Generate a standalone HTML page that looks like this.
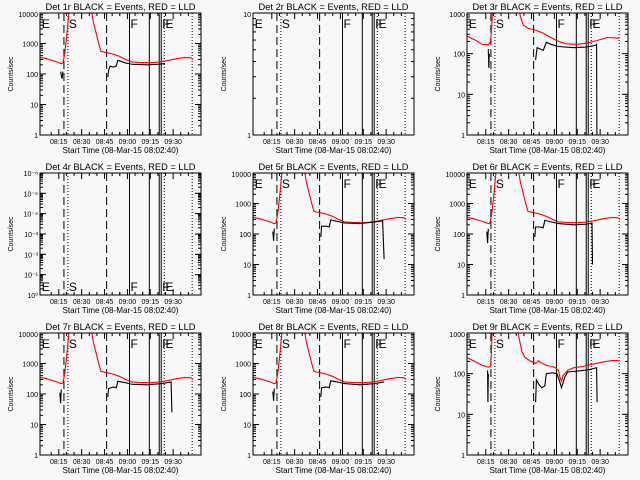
<!DOCTYPE html>
<html><head><meta charset="utf-8"><style>
html,body{margin:0;padding:0;background:#f8f8f8}
svg{display:block}
text{font-family:"Liberation Sans",sans-serif;fill:#000}
</style></head><body>
<svg id="chart" width="640" height="480" xmlns="http://www.w3.org/2000/svg"></svg>
<script>
const tickLabels=["08:15","08:30","08:45","09:00","09:15","09:30"];
const tickMinutes=[12.33,27.33,42.33,57.33,72.33,87.33];
const dashedTimes=[15.7,43.7];
const solidTimes=[58.7,71.7,78.2,79.5];
const dottedTimes=[18.3,81.5,99.8];
const letterTimes=[0.5,18.3,58.7,79.5,82.3];
const letterChars=["E","S","F","F","E"];
const titles=["Det 1r BLACK = Events, RED = LLD","Det 2r BLACK = Events, RED = LLD","Det 3r BLACK = Events, RED = LLD","Det 4r BLACK = Events, RED = LLD","Det 5r BLACK = Events, RED = LLD","Det 6r BLACK = Events, RED = LLD","Det 7r BLACK = Events, RED = LLD","Det 8r BLACK = Events, RED = LLD","Det 9r BLACK = Events, RED = LLD"];
const redA_t=[0,3,8,12,14,15,16,17,18,19.5,33,35,37,39,40,44,48,52,56,60,65,72,78,83,90,95,99,100.5];
const redA_v=[350,330,280,240,220,230,400,1000,3000,20000,20000,5000,2000,800,550,500,450,380,300,250,240,235,245,270,320,350,340,300];
const redB_t=[0,5,10,14,15.5,16,17,34,35,37,40,45,50,55,60,65,72,78,85,92,100];
const redB_v=[270,220,170,165,200,350,1500,1500,800,500,420,380,320,250,200,175,170,180,210,250,240];
const redC_t=[0,5,10,14,15.5,16,16.5,33,34,36,38,42,45,47,48,52,56,58,60,61,62,63,66,70,76,82,88,95,100];
const redC_v=[250,200,160,145,150,300,1500,1500,800,350,250,200,180,210,190,160,150,140,120,80,65,90,120,140,150,170,190,210,210];
const blk1_t=[13.5,14,14.5,15,null,44.5,45,46,48,50,51,53,56,60,70,78,82];
const blk1_v=[120,90,70,120,null,80,130,180,170,180,280,260,230,210,200,210,220];
const blk3_t=[14,14.3,14.6,null,45,46,48,50,51,52,55,60,70,78,84,85,85.2];
const blk3_v=[130,45,100,null,70,140,130,120,150,190,170,150,140,145,160,170,1];
const blk5_t=[13,13.5,14,null,44.5,45,48,50,51,55,60,70,80,85,86];
const blk5_v=[120,60,150,null,80,180,180,170,290,260,230,220,250,270,15];
const blk6_t=[13,13.5,14,null,44.5,45,48,50,51,55,60,70,78,82,82.3];
const blk6_v=[120,50,150,null,80,170,170,160,280,250,220,200,210,230,10];
const blk7_t=[13,13.5,14,null,44.5,45,48,50,51,55,60,70,80,86,86.5];
const blk7_v=[110,50,140,null,80,150,170,160,260,240,210,200,220,250,25];
const blk8_t=[13,13.5,14,null,44.5,45,48,50,51,55,60,70,80,86];
const blk8_v=[120,60,150,null,80,160,170,160,270,250,220,200,220,250];
const blk9_t=[13.5,13.7,14,null,45,45.5,47,49,51,52,56,59,61,62,64,66,72,80,85,85.3];
const blk9_v=[120,20,100,null,20,70,55,45,50,100,105,100,60,45,80,110,115,125,140,20];
const ymaxExp=[4,1,3,0,4,4,4,4,3];
const panelRed=[[redA_t,redA_v],null,[redB_t,redB_v],null,[redA_t,redA_v],[redA_t,redA_v],[redA_t,redA_v],[redA_t,redA_v],[redC_t,redC_v]];
const panelBlk=[[blk1_t,blk1_v],null,[blk3_t,blk3_v],null,[blk5_t,blk5_v],[blk6_t,blk6_v],[blk7_t,blk7_v],[blk8_t,blk8_v],[blk9_t,blk9_v]];
const logLabels4=["10⁻⁸","10⁻⁶","10⁻⁴","10⁻³","10⁻³","10⁻¹","10⁰"];

const svg=document.getElementById('chart');
const NS="http://www.w3.org/2000/svg";
function mk(tag,attrs,parent){const e=document.createElementNS(NS,tag);for(const k in attrs)e.setAttribute(k,attrs[k]);(parent||svg).appendChild(e);return e;}
const TSPAN=105.6, W=161, H=122;
for(let p=0;p<9;p++){
  const col=p%3,row=Math.floor(p/3);
  const x0=[40,253,467][col], y0=13+row*160;
  const g=mk('g',{});
  
  
  const xs=t=>x0+t*W/TSPAN;
  const emax=ymaxExp[p];
  const ys=v=>{ if(p===1){return y0+H-(Math.log10(v))*H;} if(p===3){return y0+H-v*H/6;} return y0+H-Math.log10(v)/emax*H;};
  const cid='clip'+p;
  const cp=mk('clipPath',{id:cid},g);mk('rect',{x:x0,y:y0,width:W,height:H},cp);
  const tt=mk('text',{x:x0+W/2,y:y0-3,'font-size':'9.5','text-anchor':'middle',textLength:'150',lengthAdjust:'spacingAndGlyphs'},g);tt.textContent=titles[p];
  
  
  const yt=mk('text',{x:0,y:0,'font-size':'7','text-anchor':'middle',transform:`translate(${x0-27},${y0+H/2}) rotate(-90)`},g);yt.textContent='Counts/sec';
  
  
  const xt=mk('text',{x:x0+W/2,y:y0+H+18,'font-size':'8','text-anchor':'middle',textLength:'116',lengthAdjust:'spacingAndGlyphs'},g);xt.textContent='Start Time (08-Mar-15 08:02:40)';
  
  
  tickMinutes.forEach((m,i)=>{const x=xs(m);
    mk('line',{x1:x,x2:x,y1:y0+H,y2:y0+H-6,stroke:'#000'},g);mk('line',{x1:x,x2:x,y1:y0,y2:y0+6,stroke:'#000'},g);
    const tl=mk('text',{x:x,y:y0+H+9,'font-size':'7','text-anchor':'middle'},g);tl.textContent=tickLabels[i];
    
    
    for(let k=1;k<3;k++){const xm=xs(m+k*5);if(xm<x0+W){mk('line',{x1:xm,x2:xm,y1:y0+H,y2:y0+H-3,stroke:'#000'},g);mk('line',{x1:xm,x2:xm,y1:y0,y2:y0+3,stroke:'#000'},g);}}
    const xb=xs(m-5);if(xb>x0){mk('line',{x1:xb,x2:xb,y1:y0+H,y2:y0+H-3,stroke:'#000'},g);}
  });
  if(p===3){
    for(let i=0;i<7;i++){const y=y0+H-i*H/6;
      mk('line',{x1:x0,x2:x0+6,y1:y,y2:y,stroke:'#000'},g);mk('line',{x1:x0+W,x2:x0+W-6,y1:y,y2:y,stroke:'#000'},g);
      const l=mk('text',{x:x0-2,y:y+3,'font-size':'7','text-anchor':'end'},g);l.textContent=logLabels4[6-i];
      for(let k=1;k<10;k++){const ym=y-Math.log10(k)*H/6; if(i<6){mk('line',{x1:x0,x2:x0+3,y1:ym,y2:ym,stroke:'#000'},g);mk('line',{x1:x0+W,x2:x0+W-3,y1:ym,y2:ym,stroke:'#000'},g);}}
    }
  } else {
    for(let e=0;e<=emax;e++){const y=ys(Math.pow(10,e));
      mk('line',{x1:x0,x2:x0+6,y1:y,y2:y,stroke:'#000'},g);mk('line',{x1:x0+W,x2:x0+W-6,y1:y,y2:y,stroke:'#000'},g);
      const l=mk('text',{x:x0-2,y:y+(e===emax?4:3),'font-size':'7','text-anchor':'end'},g);l.textContent=String(Math.pow(10,e));
      
      
      if(e<emax)for(let k=2;k<10;k++){const ym=ys(k*Math.pow(10,e));mk('line',{x1:x0,x2:x0+3,y1:ym,y2:ym,stroke:'#000'},g);mk('line',{x1:x0+W,x2:x0+W-3,y1:ym,y2:ym,stroke:'#000'},g);}
    }
  }
  dashedTimes.forEach(t=>mk('line',{x1:xs(t),x2:xs(t),y1:y0,y2:y0+H,stroke:'#000','stroke-dasharray':'8,4'},g));
  dottedTimes.forEach(t=>mk('line',{x1:xs(t),x2:xs(t),y1:y0,y2:y0+H,stroke:'#000','stroke-dasharray':'1,2'},g));
  solidTimes.forEach(t=>mk('line',{x1:xs(t),x2:xs(t),y1:y0,y2:y0+H,stroke:'#000'},g));
  const ly = p===3 ? y0+H-4 : y0+15;
  letterTimes.forEach((t,i)=>{const l=mk('text',{x:xs(t)+(i===4?0:1),y:ly,'font-size':'12','font-weight':'100','clip-path':`url(#${cid})`},g);l.textContent=letterChars[i];
    
    });
  function series(d,color,name){ if(!d)return; const [T,V]=d; let s='',pen=false;
    for(let i=0;i<T.length;i++){ if(T[i]===null){pen=false;continue;} s+=(pen?'L':'M')+xs(T[i]).toFixed(1)+' '+ys(V[i]).toFixed(1)+' ';pen=true;}
    const pa=mk('path',{d:s,fill:'none',stroke:color,'stroke-width':'1.1','clip-path':`url(#${cid})`},g);
    
    }
  series(panelRed[p],'#ff0000','lld-line');
  series(panelBlk[p],'#000','events-line');
  const fr=mk('rect',{x:x0,y:y0,width:W,height:H,fill:'none',stroke:'#000'},g);
  
  
}
</script>
</body></html>
